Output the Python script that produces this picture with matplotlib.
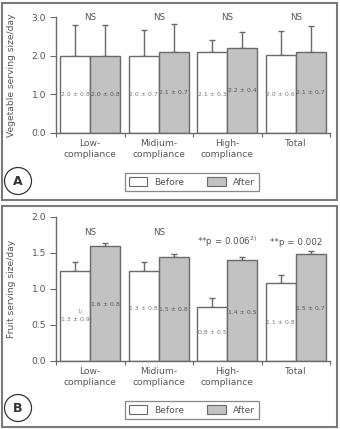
import numpy as np
import matplotlib
matplotlib.use("Agg")
import matplotlib.pyplot as plt
from matplotlib.patches import Patch, Rectangle, Ellipse

### Data

groups = ["Low-\ncompliance", "Midium-\ncompliance", "High-\ncompliance", "Total"]

veg_before = [2.0, 2.0, 2.1, 2.02]
veg_after = [2.0, 2.1, 2.2, 2.1]
veg_before_err = [0.8, 0.67, 0.3, 0.63]
veg_after_err = [0.8, 0.73, 0.42, 0.66]
veg_before_txt = ["2.0 ± 0.8", "2.0 ± 0.7", "2.1 ± 0.3", "2.0 ± 0.6"]
veg_after_txt = ["2.0 ± 0.8", "2.1 ± 0.7", "2.2 ± 0.4", "2.1 ± 0.7"]
veg_sig = ["NS", "NS", "NS", "NS"]

fruit_before = [1.25, 1.25, 0.75, 1.08]
fruit_after = [1.6, 1.45, 1.4, 1.48]
fruit_before_err = [0.12, 0.12, 0.12, 0.12]
fruit_after_err = [0.04, 0.04, 0.05, 0.05]
fruit_before_txt = ["1.3 ± 0.9", "1.3 ± 0.8", "0.8 ± 0.5", "1.1 ± 0.8"]
fruit_after_txt = ["1.6 ± 0.8", "1.5 ± 0.8", "1.4 ± 0.5", "1.5 ± 0.7"]
fruit_sig = ["NS", "NS", "**p = 0.006$^{2)}$", "**p = 0.002"]

### Styling

GRAY = "#6a6a6a"
TXT = "#555555"
FILL_AFTER = "#c2c2c2"
plt.rcParams["font.family"] = ["DejaVu Sans"]
plt.rcParams["text.color"] = TXT

W, H = 340, 429
fig = plt.figure(figsize=(W / 100, H / 100), dpi=100)


def fx(px):
    return px / W


def fy(py):
    return 1 - py / H


def panel(ax, before, after, berr, aerr, btxt, atxt, btxt_y, atxt_y,
          sig, sig_y, ymax, yticks, ylabel):
    x = np.arange(1, len(groups) + 1)
    w = 0.44
    ax.bar(x - w / 2, before, w, color="white", edgecolor=GRAY, linewidth=1.0, zorder=2)
    ax.bar(x + w / 2, after, w, color=FILL_AFTER, edgecolor=GRAY, linewidth=1.0, zorder=2)
    ax.errorbar(x - w / 2, before, yerr=[np.zeros(len(x)), berr], fmt="none",
                ecolor=GRAY, elinewidth=1.0, capsize=2.5, capthick=1.0, zorder=1)
    ax.errorbar(x + w / 2, after, yerr=[np.zeros(len(x)), aerr], fmt="none",
                ecolor=GRAY, elinewidth=1.0, capsize=2.5, capthick=1.0, zorder=1)
    for i in range(len(x)):
        ax.text(x[i] - w / 2, btxt_y[i], btxt[i], ha="center", va="center",
                fontsize=4.4, color="#777777", zorder=3)
        ax.text(x[i] + w / 2, atxt_y[i], atxt[i], ha="center", va="center",
                fontsize=4.4, color="#555555", zorder=3)
        ax.text(x[i], sig_y[i], sig[i], ha="center", va="center", fontsize=6.3, color=TXT)

    ax.set_xlim(0.5, len(x) + 0.5)
    ax.set_ylim(0, ymax)
    ax.set_yticks(yticks)
    ax.set_yticklabels([f"{t:.1f}" for t in yticks])
    ax.set_xticks(np.arange(0.5, len(x) + 1, 1))
    ax.set_xticklabels([])
    ax.set_xticks(x, minor=True)
    ax.set_xticklabels(groups, minor=True, fontsize=6.6, color=TXT, linespacing=1.3)
    ax.tick_params(axis="x", which="minor", length=0, pad=4)
    ax.tick_params(axis="x", which="major", length=3, color=GRAY, direction="out")
    ax.tick_params(axis="y", length=4, color=GRAY, labelsize=6.6, labelcolor=TXT, pad=3)
    for s in ["top", "right"]:
        ax.spines[s].set_visible(False)
    for s in ["left", "bottom"]:
        ax.spines[s].set_color(GRAY)
        ax.spines[s].set_linewidth(1.0)
    ax.set_ylabel(ylabel, fontsize=6.6, color=TXT)


### Panel A

axA = fig.add_axes([fx(56), fy(133), fx(274), 116 / H])
panel(axA, veg_before, veg_after, veg_before_err, veg_after_err,
      veg_before_txt, veg_after_txt, [1.0, 1.0, 1.0, 1.0], [1.0, 1.06, 1.09, 1.05],
      veg_sig, [3.0, 3.0, 3.0, 3.0], 3.0, [0.0, 1.0, 2.0, 3.0],
      "Vegetable serving size/day")
axA.yaxis.set_label_coords(-0.145, 0.5)

### Panel B

axB = fig.add_axes([fx(56), fy(361), fx(274), 144 / H])
panel(axB, fruit_before, fruit_after, fruit_before_err, fruit_after_err,
      fruit_before_txt, fruit_after_txt, [0.57, 0.73, 0.39, 0.54], [0.79, 0.72, 0.68, 0.73],
      fruit_sig, [1.79, 1.79, 1.65, 1.65], 2.0, [0.0, 0.5, 1.0, 1.5, 2.0],
      "Fruit serving size/day")
axB.yaxis.set_label_coords(-0.145, 0.5)
axB.text(0.855, 0.69, "1)", ha="center", va="center", fontsize=3.5, color="#888888")

### Panel frames, letters and legends

for top, bottom, letter, cy, leg_y in [(3, 200, "A", 181, 182), (206, 427, "B", 408, 410)]:
    fig.patches.append(Rectangle((fx(2), fy(bottom)), fx(335), (bottom - top) / H,
                                 transform=fig.transFigure, fill=False,
                                 edgecolor="#7a7a7a", linewidth=1.5))
    fig.patches.append(Ellipse((fx(18), fy(cy)), 27 / W, 27 / H, transform=fig.transFigure,
                               fill=False, edgecolor="#333333", linewidth=0.9))
    fig.text(fx(18), fy(cy), letter, ha="center", va="center", fontsize=9,
             fontweight="bold", color="#333333")
    handles = [Patch(facecolor="white", edgecolor=GRAY, linewidth=0.8, label="Before"),
               Patch(facecolor=FILL_AFTER, edgecolor=GRAY, linewidth=0.8, label="After")]
    leg = fig.legend(handles=handles, loc="center", bbox_to_anchor=(fx(192), fy(leg_y)),
                     ncol=2, fontsize=6.6, frameon=True, fancybox=False,
                     edgecolor=GRAY, handlelength=2.0, handleheight=1.0,
                     columnspacing=2.5, handletextpad=0.8, borderpad=0.45)
    leg.get_frame().set_linewidth(0.9)
    for t in leg.get_texts():
        t.set_color(TXT)

fig.savefig("out.png", dpi=100)
